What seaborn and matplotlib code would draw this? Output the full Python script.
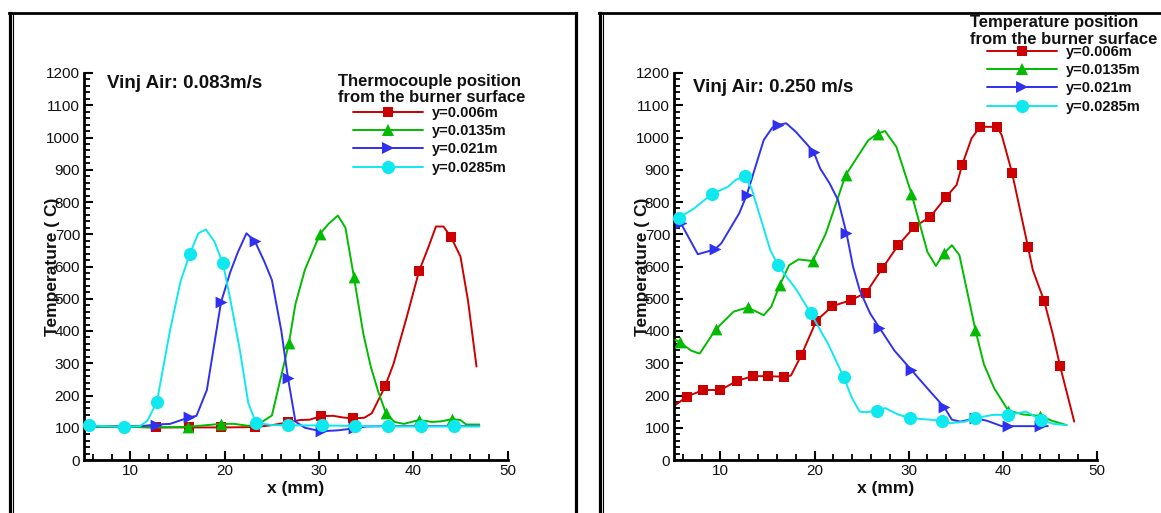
import matplotlib
matplotlib.use("Agg")
import matplotlib.pyplot as plt
import seaborn as sns
from matplotlib.lines import Line2D
from matplotlib.ticker import MultipleLocator

# ---------------- data ----------------
XLIM = (5.1, 50)
YLIM = (0, 1200)
series_labels = ["y=0.006m", "y=0.0135m", "y=0.021m", "y=0.0285m"]
panel_titles = ["Vinj Air: 0.083m/s", "Vinj Air: 0.250 m/s"]
legend_titles = ["Thermocouple position\nfrom the burner surface",
                 "Temperature position\nfrom the burner surface"]

# Panel A (Vinj 0.083 m/s)
a_red_x = [5.2, 9.3, 12.7, 16.2, 19.6, 23.2, 25.0, 26.7, 28.0, 29.0, 30.2, 31.5, 32.5, 33.6, 34.8, 35.6,
           37.0, 37.9, 39.3, 40.6, 41.6, 42.4, 43.2, 44.0, 45.0, 45.8, 46.7]
a_red_y = [105, 103, 101, 101, 101, 102, 108, 117, 124, 125, 136, 137, 132, 129, 131, 145,
           228, 298, 443, 585, 660, 724, 724, 691, 631, 494, 290]
a_red_mx = [12.7, 16.2, 19.6, 23.2, 26.7, 30.2, 33.6, 37.0, 40.6, 44.0]
a_red_my = [101, 101, 101, 101, 119, 136, 129, 228, 585, 691]

a_grn_x = [5.2, 9.3, 12.7, 16.1, 19.6, 21.0, 22.5, 23.5, 25.0, 26.8, 27.5, 28.5, 30.1, 31.0, 32.0, 32.8,
           33.7, 34.7, 35.5, 36.3, 37.1, 38.0, 39.0, 40.6, 42.0, 43.0, 44.1, 45.0, 45.6, 47.0]
a_grn_y = [103, 103, 101, 103, 112, 112, 106, 110, 138, 362, 484, 590, 701, 732, 758, 720,
           567, 391, 288, 210, 145, 118, 112, 124, 118, 120, 127, 124, 110, 110]
a_grn_mx = [16.1, 19.6, 26.8, 30.1, 33.7, 37.1, 40.6, 44.1]
a_grn_my = [103, 112, 362, 701, 567, 145, 124, 127]

a_blu_x = [5.2, 9.3, 11.5, 12.7, 14.2, 15.2, 16.2, 17.0, 18.1, 19.0, 19.6, 20.6, 21.4, 22.3, 23.2, 24.2,
           25.0, 26.0, 26.7, 27.5, 28.5, 30.2, 32.0, 33.7, 35.0, 37.0, 40.6, 44.0, 47.0]
a_blu_y = [105, 105, 106, 110, 112, 122, 132, 137, 217, 380, 489, 584, 645, 703, 678, 615,
           558, 400, 255, 119, 100, 89, 92, 98, 104, 105, 105, 105, 105]
a_blu_mx = [12.7, 16.2, 19.6, 23.2, 26.7, 30.2, 33.7]
a_blu_my = [110, 132, 489, 678, 255, 89, 98]

a_cyn_x = [5.6, 9.3, 11.0, 11.8, 12.8, 14.2, 15.3, 16.3, 17.2, 18.0, 18.9, 19.8, 20.6, 21.6, 22.5, 23.3,
           25.0, 30.3, 37.3, 44.3, 47.0]
a_cyn_y = [107, 103, 105, 122, 180, 403, 553, 640, 703, 715, 677, 610, 496, 341, 176, 116,
           108, 107, 104, 104, 104]
a_cyn_mx = [5.6, 9.3, 12.8, 16.3, 19.8, 23.3, 26.7, 30.3, 33.8, 37.3, 40.8, 44.3]
a_cyn_my = [107, 103, 180, 640, 610, 116, 107, 107, 104, 104, 104, 104]

# Panel B (Vinj 0.250 m/s)
b_red_x = [5.2, 6.4, 8.15, 10.0, 11.8, 13.5, 15.1, 16.8, 17.5, 18.6, 20.2, 21.9, 23.9, 25.5, 27.2, 28.9,
           30.6, 32.3, 34.0, 35.1, 35.7, 36.7, 37.6, 39.4, 39.9, 41.0, 42.7, 43.2, 44.4, 45.3, 46.1, 47.6]
b_red_y = [170, 196, 217, 217, 246, 260, 260, 258, 262, 325, 432, 477, 496, 519, 594, 666,
           723, 754, 816, 853, 916, 998, 1033, 1033, 1007, 890, 659, 589, 494, 393, 291, 119]
b_red_mx = [6.4, 8.15, 10.0, 11.8, 13.5, 15.1, 16.8, 18.6, 20.2, 21.9, 23.9, 25.5, 27.2, 28.9, 30.6,
            32.3, 34.0, 35.7, 37.6, 39.4, 41.0, 42.7, 44.4, 46.1]
b_red_my = [196, 217, 217, 246, 260, 260, 258, 325, 432, 477, 496, 519, 594, 666, 723,
            754, 816, 916, 1033, 1033, 890, 659, 494, 291]

b_grn_x = [5.2, 5.7, 6.9, 7.8, 9.5, 11.4, 12.9, 14.6, 15.4, 16.3, 17.3, 18.3, 19.8, 21.2, 23.3, 25.7,
           26.7, 27.5, 28.7, 30.3, 32.0, 32.9, 33.8, 34.6, 35.4, 37.1, 38.0, 39.1, 40.6, 42.2, 44.0,
           45.2, 46.8]
b_grn_y = [372, 365, 339, 330, 405, 460, 473, 449, 475, 542, 604, 622, 617, 702, 883, 991,
           1012, 1020, 971, 826, 645, 602, 642, 666, 635, 403, 297, 222, 153, 141, 137,
           122, 108]
b_grn_mx = [5.7, 9.5, 12.9, 16.3, 19.8, 23.3, 26.7, 30.3, 33.8, 37.1, 40.6, 44.0]
b_grn_my = [365, 405, 473, 542, 617, 883, 1012, 826, 642, 403, 153, 137]

b_blu_x = [5.2, 5.8, 7.6, 9.4, 10.1, 12.0, 12.8, 14.6, 15.5, 16.1, 17.0, 18.0, 19.9, 20.6, 21.6, 22.5,
           23.4, 24.1, 24.8, 25.9, 26.9, 28.5, 30.3, 32.0, 33.8, 34.6, 35.5, 37.1, 38.3, 39.9, 40.6,
           44.0, 44.8]
b_blu_y = [744, 734, 638, 653, 672, 765, 822, 992, 1030, 1039, 1044, 1018, 956, 904, 858, 806,
           703, 599, 527, 455, 410, 339, 279, 222, 163, 125, 119, 129, 122, 105, 105,
           105, 105]
b_blu_mx = [5.8, 9.4, 12.8, 16.1, 19.9, 23.4, 26.9, 30.3, 33.8, 37.1, 40.6, 44.0]
b_blu_my = [734, 653, 822, 1039, 956, 703, 410, 279, 163, 129, 105, 105]

b_cyn_x = [5.2, 5.6, 7.2, 9.1, 10.8, 11.6, 12.6, 13.3, 15.3, 16.1, 18.1, 19.6, 21.5, 23.1, 24.0, 24.8,
           25.5, 26.6, 27.5, 28.9, 30.1, 33.5, 34.4, 36.0, 37.1, 39.0, 40.6, 42.5, 44.1, 45.4, 46.8]
b_cyn_y = [749, 751, 780, 825, 847, 868, 880, 843, 651, 605, 527, 455, 357, 257, 191, 150,
           148, 153, 161, 141, 130, 122, 114, 119, 130, 140, 140, 150, 124, 112, 108]
b_cyn_mx = [5.6, 9.1, 12.6, 16.1, 19.6, 23.1, 26.6, 30.1, 33.5, 37.1, 40.6, 44.1]
b_cyn_my = [751, 825, 880, 605, 455, 257, 153, 130, 122, 130, 140, 124]

# ---------------- style ----------------
sns.set_theme(style="ticks")
plt.rcParams["font.family"] = ["Liberation Sans", "DejaVu Sans"]

colors = ["#cc0000", "#00bb00", "#3030f0", "#10e8f0"]
markers = ["s", "^", ">", "o"]
msizes = [7.5, 8.5, 8.5, 9.5]
LW = 1.4

W, H = 1161, 513
fig = plt.figure(figsize=(W / 100, H / 100), dpi=100)
fig.patch.set_facecolor("white")


def fx(px):
    return px / W


def fy(py):
    return 1 - py / H


def fline(xs, ys, lw):
    fig.add_artist(Line2D([fx(v) for v in xs], [fy(v) for v in ys], color="black",
                          lw=lw, transform=fig.transFigure, solid_capstyle="projecting"))


# panel frames
fline([9.7, 9.7], [13, 520], 2.3)
fline([12.8, 12.8], [14, 520], 0.8)
fline([9, 575.5], [13, 13], 2.0)
fline([575.5, 575.5], [13, 520], 2.3)
fline([599.5, 599.5], [13, 520], 2.3)
fline([602.6, 602.6], [14, 520], 0.8)
fline([599, 1170], [13, 13], 2.0)

panels = [
    dict(left=84.3, right=507.6,
         lines=[(a_red_x, a_red_y, a_red_mx, a_red_my), (a_grn_x, a_grn_y, a_grn_mx, a_grn_my),
                (a_blu_x, a_blu_y, a_blu_mx, a_blu_my), (a_cyn_x, a_cyn_y, a_cyn_mx, a_cyn_my)],
         title_xy=(107, 88), leg_title_x=338, leg_title_base=(86, 102),
         leg_anchor=(353.3, 106.0)),
    dict(left=674.3, right=1096.8,
         lines=[(b_red_x, b_red_y, b_red_mx, b_red_my), (b_grn_x, b_grn_y, b_grn_mx, b_grn_my),
                (b_blu_x, b_blu_y, b_blu_mx, b_blu_my), (b_cyn_x, b_cyn_y, b_cyn_mx, b_cyn_my)],
         title_xy=(693, 92.5), leg_title_x=970, leg_title_base=(26.7, 44.3),
         leg_anchor=(987.3, 45.0)),
]

TOP, BOT = 73, 460
for i, p in enumerate(panels):
    ax = fig.add_axes([fx(p["left"]), fy(BOT), (p["right"] - p["left"]) / W, (BOT - TOP) / H])
    ax.set_facecolor("white")
    for j, (lx, ly, mx, my) in enumerate(p["lines"]):
        sns.lineplot(x=lx, y=ly, ax=ax, color=colors[j], lw=LW, sort=False, estimator=None,
                     zorder=2 + j)
        sns.scatterplot(x=mx, y=my, ax=ax, color=colors[j], marker=markers[j],
                        s=msizes[j] ** 2, linewidth=0, zorder=2.5 + j, clip_on=False)
    ax.set_xlim(*XLIM)
    ax.set_ylim(*YLIM)
    ax.xaxis.set_major_locator(MultipleLocator(10))
    ax.xaxis.set_minor_locator(MultipleLocator(2))
    ax.yaxis.set_major_locator(MultipleLocator(100))
    ax.yaxis.set_minor_locator(MultipleLocator(20))
    ax.tick_params(which="both", direction="in", color="black", top=False, right=False)
    ax.tick_params(which="major", length=6.5, width=1.5, labelsize=11, pad=3, labelcolor="#111111")
    ax.tick_params(which="minor", length=4.0, width=1.3)
    for s in ["top", "right"]:
        ax.spines[s].set_visible(False)
    for s in ["left", "bottom"]:
        ax.spines[s].set_linewidth(2.0)
        ax.spines[s].set_color("black")
    ax.set_xlabel("x (mm)", fontsize=12.5, fontweight="bold", labelpad=2, color="#111111")
    ax.set_ylabel("Temperature ( C)", fontsize=12.5, fontweight="bold", color="#111111")
    ax.yaxis.set_label_coords(-0.057, 0.5)

    # panel annotation
    fig.text(fx(p["title_xy"][0]), fy(p["title_xy"][1]), panel_titles[i], fontsize=13.5,
             fontweight="bold", va="baseline", ha="left", color="#111111")
    # legend title
    t1, t2 = legend_titles[i].split("\n")
    fig.text(fx(p["leg_title_x"]), fy(p["leg_title_base"][0]), t1, fontsize=12, fontweight="bold",
             va="baseline", ha="left", color="#111111")
    fig.text(fx(p["leg_title_x"]), fy(p["leg_title_base"][1]), t2, fontsize=12, fontweight="bold",
             va="baseline", ha="left", color="#111111")
    handles = [Line2D([0], [0], color=colors[j], lw=LW, marker=markers[j],
                      markersize=msizes[j], markeredgewidth=0) for j in range(4)]
    leg = ax.legend(handles, series_labels, loc="upper left",
                    bbox_to_anchor=(fx(p["leg_anchor"][0]), fy(p["leg_anchor"][1])),
                    bbox_transform=fig.transFigure, frameon=False, borderpad=0, borderaxespad=0,
                    handlelength=4.76, handletextpad=0.62, labelspacing=0.29, numpoints=1,
                    prop=dict(size=10.5, weight="bold"))
    for t in leg.get_texts():
        t.set_color("#111111")

fig.savefig("out.png", dpi=100, facecolor="white")
